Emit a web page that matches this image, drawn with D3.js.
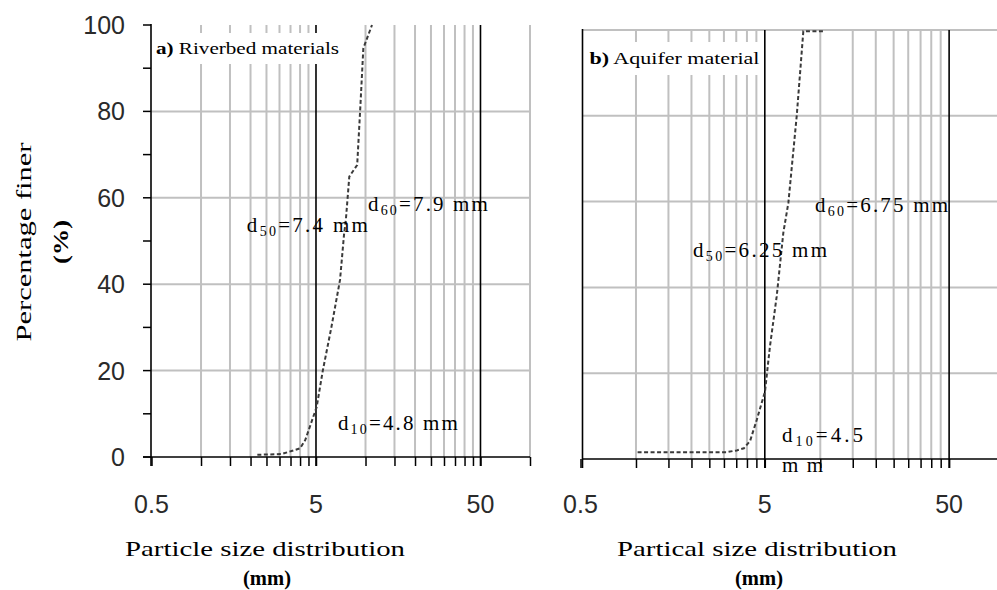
<!DOCTYPE html>
<html><head><meta charset="utf-8">
<script src="https://cdn.jsdelivr.net/npm/d3@7/dist/d3.min.js"></script>
<style>body{margin:0;background:#fff}svg{display:block}</style>
</head><body><svg id="c" width="997" height="590"></svg>
<script>
// ---- data ----
const sizesA = [2.2, 3.1, 4.0, 4.3, 5.05, 5.5, 6.2, 7.0, 7.4, 7.6, 7.97, 8.9, 9.3, 9.7, 10.95];
const pctA   = [0.5, 0.7, 2.0, 3.9, 11.6, 20, 30, 41, 51.4, 55, 64.9, 67.6, 81, 94.6, 100];
const sizesB = [1.02, 3.1, 3.52, 3.85, 4.16, 4.52, 5.01, 5.33, 5.8, 6.3, 6.71, 7.45, 8.09, 10.38];
const pctB   = [1.6, 1.6, 2.0, 2.5, 4.2, 9.1, 15.7, 26.2, 37.9, 52.7, 59.7, 80, 99.7, 99.7];
const xMajor = [0.5, 5, 50];
const xMajorLabels = ["0.5", "5", "50"];
const xMinorGrid = [1, 1.5, 2, 2.5, 3, 3.5, 4, 4.5, 10, 15, 20, 25, 30, 35, 40, 45, 100];
const yTicks = [0, 20, 40, 60, 80, 100];
const yMinorTicks = [10, 30, 50, 70, 90];
const titlesA = ["a)", " Riverbed materials"];
const titlesB = ["b)", " Aquifer material"];
const xTitleA = "Particle size distribution";
const xTitleB = "Partical size distribution";
const yTitle = "Percentage finer";
// annotations: [main, sub, rest, size anchor, pct anchor, text width]
const notesA = [["d", "50", "=7.4 mm", 1.90, 52.1, 121], ["d", "60", "=7.9 mm", 10.35, 56.9, 120], ["d", "10", "=4.8 mm", 6.8, 6.25, 120]];
const notesB = [["d", "60", "=6.75 mm", 9.37, 57.6, 133], ["d", "50", "=6.25 mm", 2.04, 47.1, 134], ["d", "10", "=4.5", 6.2, 4.0, 81], ["", "", "mm", 6.2, -3.0, 41]];

const svg = d3.select("#c");
const GRID = "#c0c0c0", SERIF = "'Liberation Serif','Times New Roman',serif", SANS = "'Liberation Sans',Arial,sans-serif";

function panel(cfg) {
  const x = d3.scaleLog().domain([0.5, 100]).range(cfg.xr);
  const y = d3.scaleLinear().domain([0, 100]).range(cfg.yr);
  const g = svg.append("g");
  const ax0 = cfg.axisX, right = cfg.rightEdge;
  // horizontal grid
  g.selectAll(".hg").data(cfg.hgrid).join("line")
    .attr("x1", ax0).attr("x2", right).attr("y1", d => y(d)).attr("y2", d => y(d))
    .attr("stroke", GRID).attr("stroke-width", 2);
  // vertical minor grid
  g.selectAll(".vg").data(xMinorGrid).join("line")
    .attr("x1", d => x(d)).attr("x2", d => x(d)).attr("y1", y(100)).attr("y2", y(0))
    .attr("stroke", GRID).attr("stroke-width", 2);
  // major grid (black)
  g.selectAll(".mg").data(xMajor.slice(1)).join("line")
    .attr("x1", d => x(d)).attr("x2", d => x(d)).attr("y1", y(100)).attr("y2", y(0) + 9)
    .attr("stroke", "#000").attr("stroke-width", 1.6);
  // title box
  g.append("rect").attr("x", ax0 + 1).attr("y", cfg.box[0]).attr("width", cfg.box[2]).attr("height", cfg.box[1])
    .attr("fill", "#fff");
  const tt = g.append("text").attr("x", ax0 + cfg.box[3]).attr("y", cfg.box[4])
    .attr("font-family", SERIF).attr("font-size", cfg.box[5]).attr("fill", "#000")
    .attr("textLength", cfg.box[6]).attr("lengthAdjust", "spacingAndGlyphs");
  tt.append("tspan").attr("font-weight", "bold").text(cfg.titles[0]);
  tt.append("tspan").text(cfg.titles[1]);
  // x axis
  const xa = d3.axisBottom(x).tickValues(xMinorGrid.filter(d => x(d) <= 997).concat(xMajor)).tickSize(9).tickFormat("");
  const xg = g.append("g").attr("transform", `translate(0,${y(0)})`).call(xa);
  xg.select(".domain").remove();
  xg.selectAll("line").attr("stroke", "#000").attr("stroke-width", 1.5);
  g.append("line").attr("x1", cfg.axisLeft).attr("x2", right).attr("y1", y(0)).attr("y2", y(0))
    .attr("stroke", "#000").attr("stroke-width", 1.6);
  // y axis line
  g.append("line").attr("x1", ax0).attr("x2", ax0).attr("y1", y(100) - 1).attr("y2", y(0) + 9)
    .attr("stroke", "#000").attr("stroke-width", 1.6);
  if (cfg.yTicks) {
    g.selectAll(".yt").data(yTicks.concat(yMinorTicks)).join("line")
      .attr("x1", ax0 - 8).attr("x2", ax0).attr("y1", d => y(d)).attr("y2", d => y(d))
      .attr("stroke", "#000").attr("stroke-width", 1.5);
    g.selectAll(".yl").data(yTicks).join("text")
      .attr("x", ax0 - 26).attr("y", d => y(d) + 9).attr("text-anchor", "end")
      .attr("font-family", SANS).attr("font-size", 25).attr("fill", "#2a2a2a").text(d => d);
  }
  // x tick labels
  g.selectAll(".xl").data(xMajor).join("text")
    .attr("x", d => x(d)).attr("y", 513).attr("text-anchor", "middle")
    .attr("font-family", SANS).attr("font-size", 25).attr("fill", "#2a2a2a")
    .text((d, i) => xMajorLabels[i]);
  // curve
  const pts = cfg.sizes.map((s, i) => [s, cfg.pct[i]]);
  g.append("path").datum(pts)
    .attr("d", d3.line().x(d => x(d[0])).y(d => y(d[1])))
    .attr("fill", "none").attr("stroke", "#3a3a3a").attr("stroke-width", 2)
    .attr("stroke-dasharray", "4,2.5");
  // annotations
  cfg.notes.forEach(n => {
    const t = g.append("text").attr("x", x(n[3])).attr("y", y(n[4]))
      .attr("font-family", SERIF).attr("font-size", 21).attr("fill", "#000")
      .attr("textLength", n[5]).attr("lengthAdjust", "spacing");
    if (n[0]) t.append("tspan").text(n[0]);
    if (n[1]) t.append("tspan").attr("font-size", 14).attr("dy", 4).text(n[1]);
    t.append("tspan").attr("dy", n[1] ? -4 : 0).text(n[2]);
  });
  // x title
  g.append("text").attr("x", cfg.titleX).attr("y", 556).attr("text-anchor", "middle")
    .attr("font-family", SERIF).attr("font-size", 22).attr("fill", "#000")
    .attr("textLength", 280).attr("lengthAdjust", "spacingAndGlyphs").text(cfg.xTitle);
  g.append("text").attr("x", cfg.titleX + 2).attr("y", 585).attr("text-anchor", "middle")
    .attr("font-family", SERIF).attr("font-size", 20).attr("font-weight", "bold").attr("fill", "#000")
    .attr("textLength", 48).attr("lengthAdjust", "spacingAndGlyphs").text("(mm)");
}

panel({xr: [151.5, 530], yr: [457, 25], axisX: 151, axisLeft: 143, rightEdge: 530, hgrid: [20, 40, 60, 80],
  box: [33, 31, 193, 5, 54, 16, 183], titles: titlesA, yTicks: true, sizes: sizesA, pct: pctA, notes: notesA,
  xTitle: xTitleA, titleX: 265});
panel({xr: [580.5, 1004.6], yr: [459, 30], axisX: 582.5, axisLeft: 582.5, rightEdge: 997, hgrid: [20, 40, 60, 80, 100],
  box: [42, 33, 180, 7, 64, 17, 170], titles: titlesB, yTicks: false, sizes: sizesB, pct: pctB, notes: notesB,
  xTitle: xTitleB, titleX: 757});

// y title
svg.append("text").attr("transform", "translate(31,242) rotate(-90)").attr("text-anchor", "middle")
  .attr("font-family", SERIF).attr("font-size", 22).attr("fill", "#000")
  .attr("textLength", 199).attr("lengthAdjust", "spacingAndGlyphs").text(yTitle);
svg.append("text").attr("transform", "translate(68,242) rotate(-90)").attr("text-anchor", "middle")
  .attr("font-family", SERIF).attr("font-size", 22).attr("font-weight", "bold").attr("fill", "#000")
  .attr("textLength", 44).attr("lengthAdjust", "spacingAndGlyphs").text("(%)");
</script></body></html>
